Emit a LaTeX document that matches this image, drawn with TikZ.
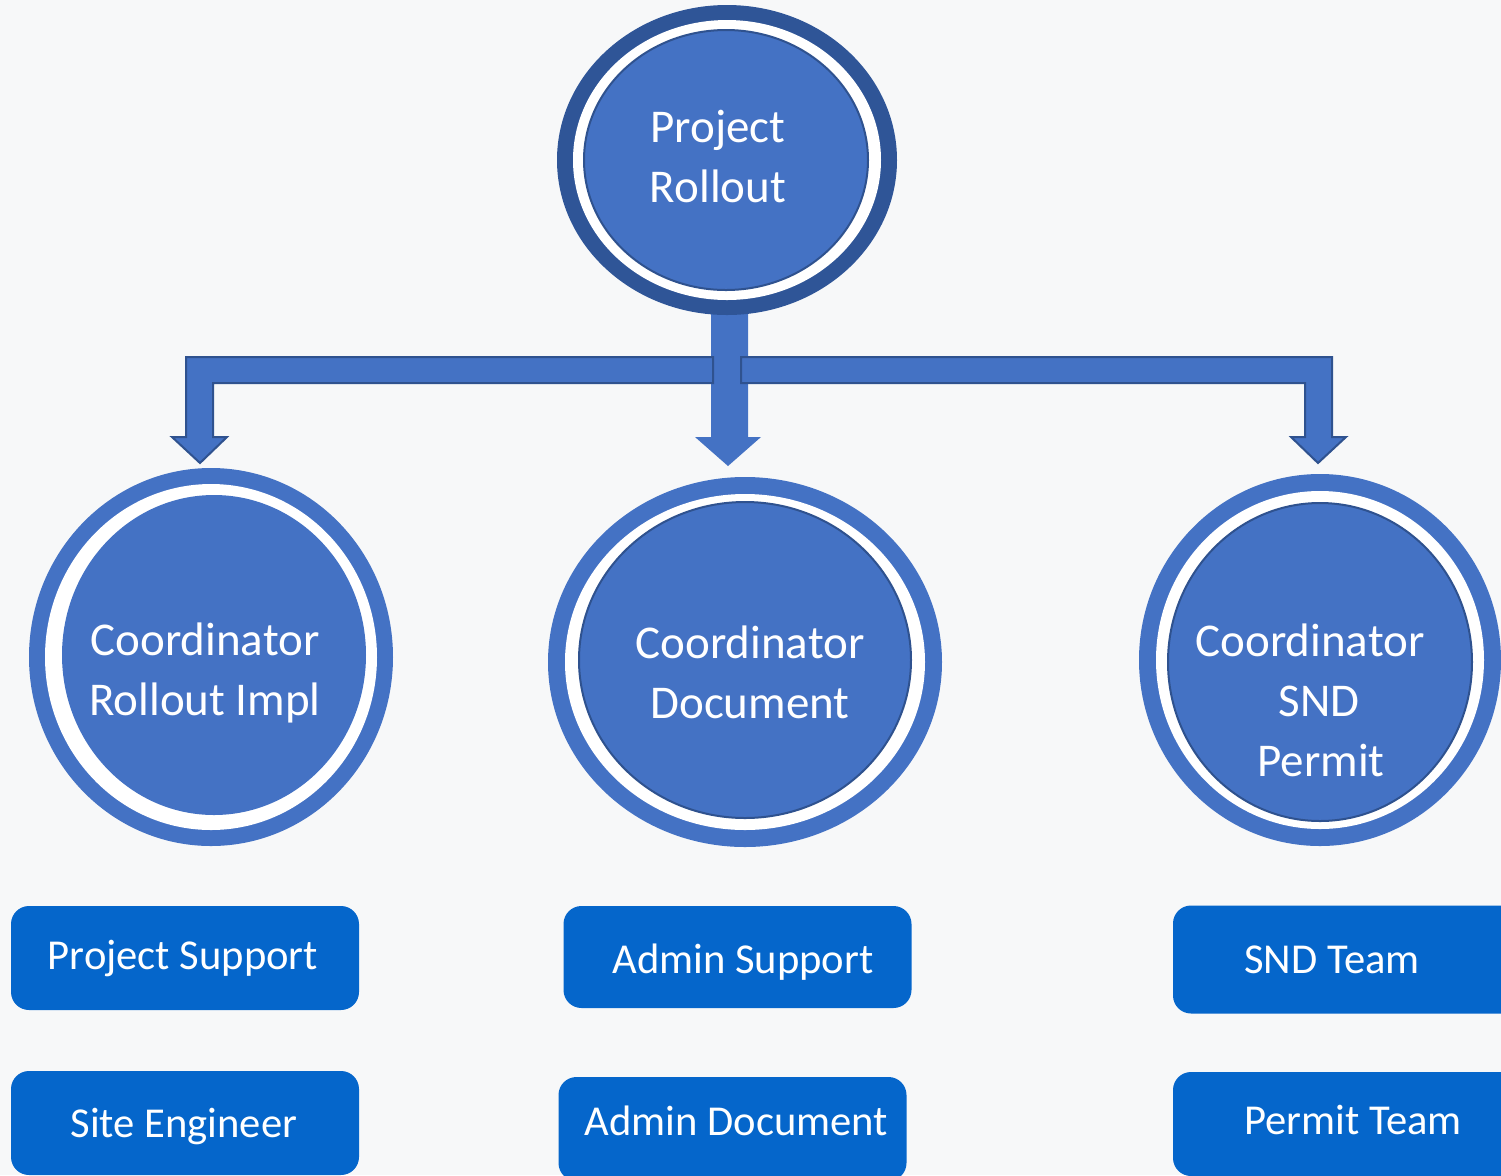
\documentclass[tikz,border=0pt]{standalone}
\usepackage{fontspec}
\setmainfont{Carlito}
\usepackage{tikz}
\usetikzlibrary{calc,shapes.geometric}
\definecolor{paper}{HTML}{F7F8F9}
\definecolor{discblue}{HTML}{4472C4}
\definecolor{ringdark}{HTML}{2F5597}
\definecolor{edge}{HTML}{2F528F}
\definecolor{cardblue}{HTML}{0566CB}
\tikzset{
  gap/.style={fill=white},
  bubble/.style={ellipse, fill=discblue, inner sep=0pt, outer sep=0pt},
  rim/.style={draw=edge, line width=1pt},
  lbl/.style={text=white, align=center, inner sep=0pt, font=\fontsize{23.5}{30}\selectfont},
  cardbox/.style={rounded corners=9pt, fill=cardblue, inner sep=0pt, minimum width=174pt, minimum height=52pt},
  cardlbl/.style={text=white, inner sep=0pt, font=\fontsize{21.3}{26}\selectfont},
  branch/.style={fill=discblue, draw=edge, line width=1pt, line join=miter},
}

\begin{document}
\begin{tikzpicture}[x=0.5pt, y=-0.5pt]
  \useasboundingbox (0,0) rectangle (1501,1175);
  \clip (0,0) rectangle (1501,1175);
  \fill[paper] (0,0) rectangle (1501,1175);

  \coordinate (tipL) at (200,463);
  \coordinate (tipR) at (1318,463);
  \coordinate (tipM) at (728,466);
  % straight down to the middle one
  \fill[discblue] (711,300) -- (748,300) -- (748,437) -- (761,437) -- (tipM)
    -- (695,437) -- (711,437) -- cycle;
  % branches to the left and right coordinators
  \filldraw[branch] (713,357) -- (186,357) -- (186,437) -- (172,437) -- (tipL)
    -- (227,437) -- (213,437) -- (213,383) -- (713,383) -- cycle;
  \filldraw[branch] (741,357) -- (1332,357) -- (1332,437) -- (1346,437) -- (tipR)
    -- (1291,437) -- (1305,437) -- (1305,383) -- (741,383) -- cycle;

  % top
  \fill[ringdark] (727,160) ellipse [x radius=170, y radius=155];
  \fill[gap] (727,160) ellipse [x radius=154, y radius=140];
  \node[bubble, rim, minimum width=142pt, minimum height=130pt] (root) at (726,160) {};
  \node[lbl] (root-t) at (718,156) {Project\\Rollout};

  % coordinators
  \fill[discblue] (211,657) ellipse [x radius=182, y radius=189];
  \fill[gap] (211,657) ellipse [x radius=166, y radius=173];
  \node[bubble, minimum width=152pt, minimum height=160pt] (impl) at (214,655) {};
  \node[lbl] (impl-t) at (205,672.5) {Coordinator\\Rollout Impl};

  \fill[discblue] (745,662) ellipse [x radius=197, y radius=185];
  \fill[gap] (745,662) ellipse [x radius=180, y radius=168];
  \node[bubble, rim, minimum width=166pt, minimum height=158pt] (doc) at (745,660) {};
  \node[lbl] (doc-t) at (750,672.5) {Coordinator\\Document};

  \fill[discblue] (1320,660) ellipse [x radius=181, y radius=186];
  \fill[gap] (1320,660) ellipse [x radius=164, y radius=169];
  \node[bubble, rim, minimum width=152pt, minimum height=159pt] (snd) at (1320,662) {};
  \node[lbl] (snd-t) at (1310,700.5) {Coordinator\\\hspace*{9pt}SND\\\hspace*{11pt}Permit};

  % teams
  \node[cardbox] (projsup) at (185,958) {};
  \node[cardlbl] (projsup-t) at (183,958) {Project Support};
  \node[cardbox] (siteeng) at (185,1123) {};
  \node[cardlbl] (siteeng-t) at (184,1126) {Site Engineer};

  \node[cardbox, minimum height=51pt] (adminsup) at (737.5,957) {};
  \node[cardlbl] (adminsup-t) at (743,962.5) {Admin Support};
  \node[cardbox] (admindoc) at (732.5,1129) {};
  \node[cardlbl] (admindoc-t) at (736.5,1121) {Admin Document};

  \node[cardbox, minimum height=54pt] (sndteam) at (1347,959.5) {};
  \node[cardlbl] (sndteam-t) at (1332,959.5) {SND Team};
  \node[cardbox] (permit) at (1347,1124) {};
  \node[cardlbl] (permit-t) at (1353,1120) {Permit Team};
\end{tikzpicture}
\end{document}
